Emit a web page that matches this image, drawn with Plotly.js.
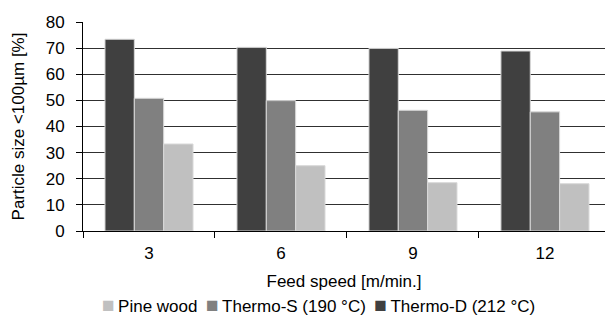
<!DOCTYPE html>
<html><head><meta charset="utf-8">
<script src="https://cdn.plot.ly/plotly-3.0.1.min.js"></script>
<style>html,body{margin:0;padding:0;background:#fff;}#chart{width:605px;height:316px;}</style>
</head><body><div id="chart"></div>
<script>
const categories = ["3", "6", "9", "12"];
const thermoD = [73.4, 70.3, 69.9, 68.9];
const thermoS = [50.8, 49.9, 46.2, 45.6];
const pineWood = [33.3, 25.0, 18.5, 18.1];
const seriesNames = ["Thermo-D (212 °C)", "Thermo-S (190 °C)", "Pine wood"];
const seriesColors = ["#404040", "#808080", "#c0c0c0"];

const line = {color: "#d8d8d8", width: 1};
const seriesValues = [thermoD, thermoS, pineWood];
const data = seriesValues.map((vals, i) => ({
  type: "bar", name: seriesNames[i], x: categories, y: vals,
  marker: {color: seriesColors[i], line: line}
}));

// legend drawn as a single text line, in the reference's order (reversed)
const legendText = [2, 1, 0].map(i =>
  '<span style="color:' + seriesColors[i] + ';font-size:21px">■</span>\u2009' + seriesNames[i]
).join('\u2002');

const layout = {
  width: 605, height: 316,
  margin: {l: 83, r: 0, t: 22, b: 85},
  paper_bgcolor: "#fff", plot_bgcolor: "#fff",
  font: {family: "Liberation Sans, Arial, sans-serif", size: 17, color: "#000"},
  barmode: "group", bargap: 0.333, bargroupgap: 0,
  showlegend: false,
  annotations: [{
    text: legendText, showarrow: false,
    xref: "paper", yref: "paper", x: 0.452, y: -0.352,
    xanchor: "center", yanchor: "middle", font: {size: 17, color: "#000"}
  }],
  xaxis: {type: "category", range: [-0.5, 3.455], tickson: "boundaries", ticks: "outside", ticklen: 6, tickcolor: "#000", showline: true, linecolor: "#000", showgrid: false, zeroline: false, fixedrange: true, automargin: true,
    ticklabelstandoff: 7, tickfont: {size: 17}, title: {text: "Feed speed [m/min.]", font: {size: 17}, standoff: 12}},
  yaxis: {range: [0, 80], dtick: 10, ticks: "outside", ticklen: 6, tickcolor: "#000", showline: true, linecolor: "#000", showgrid: true, gridcolor: "#303030", gridwidth: 1, zeroline: false, automargin: true,
    ticklabelstandoff: 8, tickfont: {size: 17}, title: {text: "Particle size <100µm [%]", font: {size: 17}, standoff: 16}}
};
Plotly.newPlot("chart", data, layout, {staticPlot: true});
</script></body></html>
